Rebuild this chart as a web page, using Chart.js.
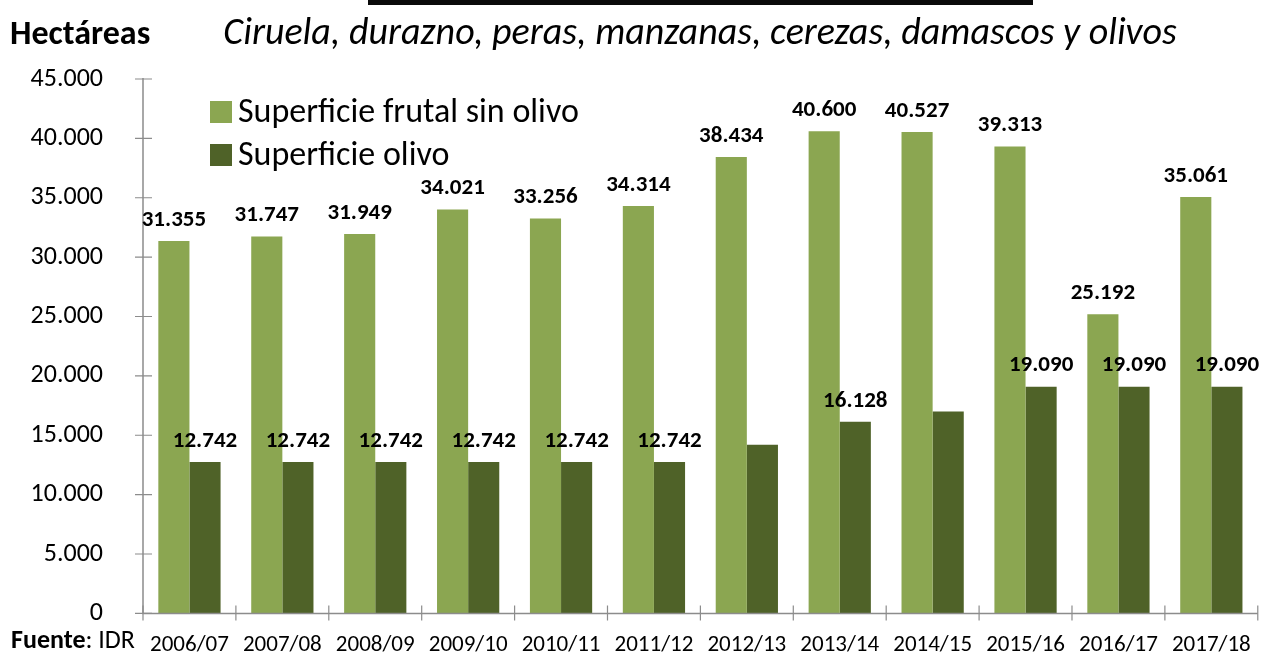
<!DOCTYPE html>
<html>
<head>
<meta charset="utf-8">
<script src="https://cdn.jsdelivr.net/npm/chart.js@4.4.1/dist/chart.umd.min.js"></script>
<style>
html,body{margin:0;padding:0;background:#fff;overflow:hidden;width:1264px;height:653px;}
canvas{display:block;}
</style>
</head>
<body>
<canvas id="c" width="1264" height="653"></canvas>
<script>
const categories = ['2006/07','2007/08','2008/09','2009/10','2010/11','2011/12','2012/13','2013/14','2014/15','2015/16','2016/17','2017/18'];
const fruitValues = [31355,31747,31949,34021,33256,34314,38434,40600,40527,39313,25192,35061];
const oliveValues = [12742,12742,12742,12742,12742,12742,14200,16128,17000,19090,19090,19090];
const fruitLabelShown = [true,true,true,true,true,true,true,true,true,true,true,true];
const oliveLabelShown = [true,true,true,true,true,true,false,true,false,true,true,true];
const seriesNames = ['Superficie frutal sin olivo','Superficie olivo'];
const yMin = 0, yMax = 45000, yStep = 5000;
const unitLabel = 'Hectáreas';
const titleText = 'Ciruela, durazno, peras, manzanas, cerezas, damascos y olivos';
const sourceBold = 'Fuente';
const sourceRest = ': IDR';

const FONT = "Carlito, Lato, 'Open Sans', sans-serif";
const fmt = v => String(Math.round(v)).replace(/\B(?=(\d{3})+(?!\d))/g, '.');
const AXIS = '#8c8c8c';
const PLOT = { left: 143, top: 79, right: 1258, bottom: 613 };

const decor = {
  id: 'decor',
  afterDraw(chart) {
    const ctx = chart.ctx;
    const x = chart.scales.x, y = chart.scales.y;
    const area = chart.chartArea;
    ctx.save();
    ctx.strokeStyle = AXIS; ctx.lineWidth = 1.5;
    ctx.beginPath();
    ctx.moveTo(area.left, area.top - 1); ctx.lineTo(area.left, area.bottom);
    ctx.lineTo(area.right, area.bottom);
    ctx.stroke();
    ctx.lineWidth = 1.2;
    ctx.beginPath();
    y.ticks.forEach((t, i) => {
      const py = y.getPixelForTick(i);
      ctx.moveTo(area.left - 8, py); ctx.lineTo(area.left + 9, py);
    });
    const n = categories.length;
    for (let i = 0; i <= n; i++) {
      let px;
      if (i === 0) px = area.left; else if (i === n) px = area.right;
      else px = (x.getPixelForValue(i - 1) + x.getPixelForValue(i)) / 2;
      ctx.moveTo(px, area.bottom - 8); ctx.lineTo(px, area.bottom + 7);
    }
    ctx.stroke();

    ctx.fillStyle = '#000';
    ctx.font = "bold 23px " + FONT;
    ctx.textAlign = 'center'; ctx.textBaseline = 'middle';
    const shown = [fruitLabelShown, oliveLabelShown];
    chart.data.datasets.forEach((ds, di) => {
      const meta = chart.getDatasetMeta(di);
      meta.data.forEach((bar, i) => {
        if (!shown[di][i]) return;
        ctx.fillText(fmt(ds.data[i]), bar.x, bar.y - 21);
      });
    });

    ctx.font = "34px " + FONT;
    ctx.textAlign = 'left';
    chart.data.datasets.forEach((ds, di) => {
      const cy = 112 + di * 43;
      ctx.fillStyle = ds.backgroundColor;
      ctx.fillRect(210, cy - 11, 22, 22);
      ctx.fillStyle = '#000';
      ctx.fillText(ds.label, 238, cy + 1);
    });

    ctx.textBaseline = 'alphabetic';
    ctx.font = "bold 34px " + FONT;
    ctx.fillText(unitLabel, 10, 44);
    ctx.font = "italic 38px " + FONT;
    ctx.textAlign = 'center';
    ctx.fillText(titleText, 700, 44);
    ctx.fillStyle = '#0a0a0a';
    ctx.fillRect(368, 0, 665, 5);
    ctx.textAlign = 'left';
    ctx.fillStyle = '#000';
    ctx.font = "bold 26px " + FONT;
    ctx.fillText(sourceBold, 11, 648);
    const w = ctx.measureText(sourceBold).width;
    ctx.font = "26px " + FONT;
    ctx.fillText(sourceRest, 11 + w, 648);
    ctx.restore();
  }
};

function build(canvas) {
  return new Chart(canvas, {
    type: 'bar',
    data: {
      labels: categories,
      datasets: [
        { label: seriesNames[0], data: fruitValues, backgroundColor: '#8BA651', borderWidth: 0 },
        { label: seriesNames[1], data: oliveValues, backgroundColor: '#4F6228', borderWidth: 0 }
      ]
    },
    options: {
      responsive: false,
      maintainAspectRatio: false,
      animation: false,
      events: [],
      layout: { padding: { left: 0, top: PLOT.top, right: 6, bottom: 0 } },
      plugins: { legend: { display: false }, tooltip: { enabled: false }, title: { display: false } },
      datasets: { bar: { categoryPercentage: 0.67, barPercentage: 1.0 } },
      scales: {
        x: {
          offset: true,
          grid: { display: false, drawTicks: false },
          border: { display: false },
          ticks: { color: '#000', font: { family: FONT, size: 23 }, padding: 18, maxRotation: 0, autoSkip: false }
        },
        y: {
          min: yMin, max: yMax,
          grid: { display: false, drawTicks: false },
          border: { display: false },
          ticks: { stepSize: yStep, color: '#000', font: { family: FONT, size: 26 }, padding: 40, callback: v => fmt(v) },
          afterFit: s => { s.width = PLOT.left; }
        }
      }
    },
    plugins: [decor]
  });
}

const canvas = document.getElementById('c');
let chart = build(canvas);
// measure the automatic margins once, then size the canvas so the plot area lands where the reference has it
const a = chart.chartArea;
const newW = Math.round(1264 + (PLOT.right - a.right));
const newH = Math.round(653 + (PLOT.bottom - a.bottom));
chart.destroy();
canvas.width = newW; canvas.height = newH;
canvas.style.width = newW + 'px'; canvas.style.height = newH + 'px';
chart = build(canvas);
</script>
</body>
</html>
